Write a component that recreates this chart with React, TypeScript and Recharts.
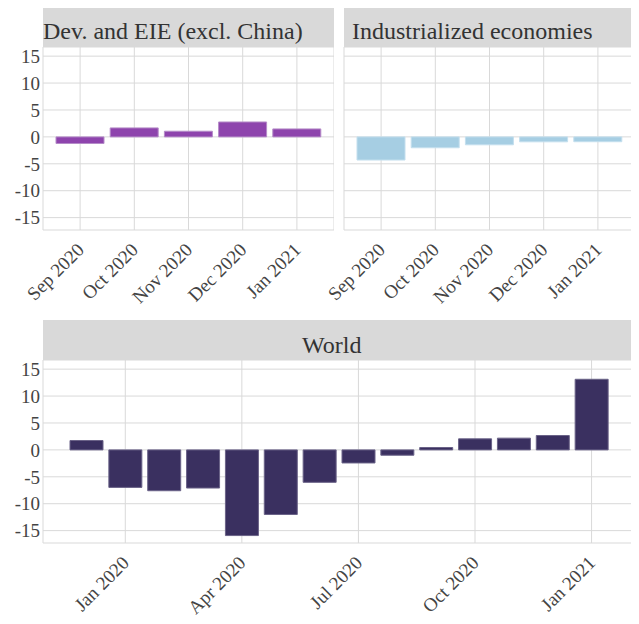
import React from "react";
import { BarChart, Bar, XAxis, YAxis, CartesianGrid } from "recharts";

const monthsTop = ["Sep 2020", "Oct 2020", "Nov 2020", "Dec 2020", "Jan 2021"];
const devValues = [-1.23, 1.67, 1.05, 2.77, 1.48];
const indValues = [-4.3, -2.02, -1.47, -0.92, -0.9];

const monthsWorld = [
  "Dec 2019", "Jan 2020", "Feb 2020", "Mar 2020", "Apr 2020", "May 2020", "Jun 2020",
  "Jul 2020", "Aug 2020", "Sep 2020", "Oct 2020", "Nov 2020", "Dec 2020", "Jan 2021",
];
const worldValues = [1.74, -6.97, -7.59, -7.09, -15.92, -12.0, -6.03, -2.43, -0.99, 0.44, 2.05, 2.18, 2.67, 13.12];
const worldTicks = ["Jan 2020", "Apr 2020", "Jul 2020", "Oct 2020", "Jan 2021"];

const yTicks = [-15, -10, -5, 0, 5, 10, 15];
const yDomain = [-17.3, 16.7];

const devData = monthsTop.map((m, i) => ({ month: m, value: devValues[i] }));
const indData = monthsTop.map((m, i) => ({ month: m, value: indValues[i] }));
const worldData = monthsWorld.map((m, i) => ({ month: m, value: worldValues[i] }));

const FONT = "Liberation Serif";
const GRID = "#d9d9d9";
const TEXT = "#444444";
const CSS = `#chartroot, #chartroot text, #chartroot tspan, #chartroot div { font-family: "Liberation Serif" !important; }`;

const XTick = (props: any) => {
  const { x, y, payload } = props;
  const ax = x + 5;
  const ay = y + 21;
  return (
    <text
      x={ax}
      y={ay}
      transform={`rotate(-45 ${ax} ${ay})`}
      textAnchor="end"
      fill={TEXT}
      fontFamily={FONT}
      fontSize={19}
      style={{ fontFamily: FONT }}
    >
      {payload.value}
    </text>
  );
};

const YTick = (props: any) => {
  const { x, y, payload } = props;
  return (
    <text x={x} y={y} dy="0.355em" textAnchor="end" fill={TEXT} fontFamily={FONT} fontSize={19} style={{ fontFamily: FONT }}>
      {payload.value}
    </text>
  );
};

const Header = ({ left, top, width, height, text, textLeft, baseline }: any) => (
  <div style={{ position: "absolute", left, top, width, height, background: "#d9d9d9" }}>
    <svg width={width} height={height} style={{ position: "absolute", left: 0, top: 0 }}>
      <text x={textLeft} y={baseline} fill="#333333" fontFamily={FONT} fontSize={24} style={{ fontFamily: FONT }}>
        {text}
      </text>
    </svg>
  </div>
);

export default function App() {
  return (
    <div
      id="chartroot"
      style={{ position: "relative", margin: -8, width: 639, height: 624, background: "#ffffff", fontFamily: FONT }}
    >
      <style>{CSS}</style>
      <Header left={43} top={6} width={291} height={41} text="Dev. and EIE (excl. China)" textLeft={0} baseline={33} />
      <Header left={344} top={6} width={291} height={41} text="Industrialized economies" textLeft={8} baseline={33} />
      <Header left={43} top={320} width={592} height={40} text="World" textLeft={259} baseline={33} />

      <div style={{ position: "absolute", left: 0, top: 47 }}>
        <BarChart width={334} height={273} data={devData} margin={{ top: 0, right: 0, bottom: 0, left: 0 }}>
          <CartesianGrid stroke={GRID} strokeWidth={1} />
          <XAxis
            dataKey="month"
            height={90}
            padding={{ left: 10, right: 10 }}
            tickLine={false}
            axisLine={false}
            tickSize={0}
            tickMargin={0}
            interval={0}
            tick={<XTick />}
          />
          <YAxis
            width={43}
            domain={yDomain}
            ticks={yTicks}
            interval={0}
            allowDataOverflow
            tickLine={false}
            axisLine={false}
            tickSize={0}
            tickMargin={3}
            tick={<YTick />}
          />
          <Bar dataKey="value" fill="#8e44ad" stroke="#b58cc8" strokeWidth={1} barSize={48} isAnimationActive={false} />
        </BarChart>
      </div>

      <div style={{ position: "absolute", left: 254, top: 47 }}>
        <BarChart width={381} height={273} data={indData} margin={{ top: 0, right: 0, bottom: 0, left: 90 }}>
          <CartesianGrid stroke={GRID} strokeWidth={1} />
          <XAxis
            dataKey="month"
            height={90}
            padding={{ left: 10, right: 10 }}
            tickLine={false}
            axisLine={false}
            tickSize={0}
            tickMargin={0}
            interval={0}
            tick={<XTick />}
          />
          <YAxis hide width={0} domain={yDomain} ticks={yTicks} interval={0} allowDataOverflow />
          <Bar dataKey="value" fill="#a6cee3" stroke="#c4dfee" strokeWidth={1} barSize={48} isAnimationActive={false} />
        </BarChart>
      </div>

      <div style={{ position: "absolute", left: 0, top: 360 }}>
        <BarChart width={635} height={264} data={worldData} margin={{ top: 0, right: 0, bottom: 0, left: 0 }}>
          <CartesianGrid stroke={GRID} strokeWidth={1} />
          <XAxis
            dataKey="month"
            height={81}
            padding={{ left: 24, right: 24 }}
            ticks={worldTicks}
            tickLine={false}
            axisLine={false}
            tickSize={0}
            tickMargin={0}
            interval={0}
            tick={<XTick />}
          />
          <YAxis
            width={43}
            domain={yDomain}
            ticks={yTicks}
            interval={0}
            allowDataOverflow
            tickLine={false}
            axisLine={false}
            tickSize={0}
            tickMargin={3}
            tick={<YTick />}
          />
          <Bar dataKey="value" fill="#3a3060" stroke="#6a6388" strokeWidth={1} barSize={33} isAnimationActive={false} />
        </BarChart>
      </div>
    </div>
  );
}
